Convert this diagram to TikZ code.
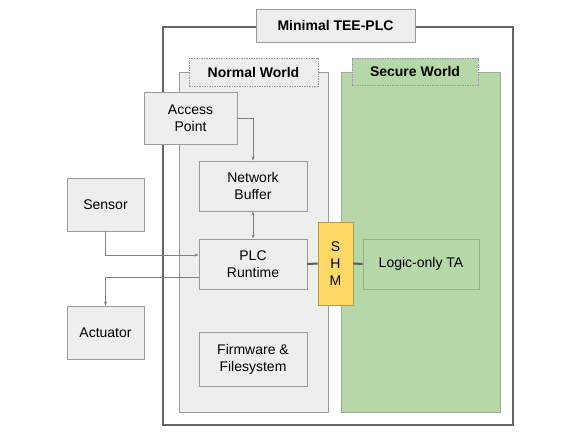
\documentclass[tikz,border=0pt]{standalone}
\usepackage{fontspec}
\setmainfont{Liberation Sans}
\usetikzlibrary{arrows.meta}
\definecolor{boxfill}{HTML}{EEEEEE}
\definecolor{boxline}{HTML}{9A9A9A}
\definecolor{greenfill}{HTML}{B6D7A8}
\definecolor{greenline}{HTML}{9AAF91}
\definecolor{shmfill}{HTML}{FFD966}
\definecolor{shmline}{HTML}{B59A4A}
\definecolor{outerline}{HTML}{666666}
\definecolor{wireline}{HTML}{808080}
\definecolor{thickline}{HTML}{5A5A5A}
\tikzset{
  comp/.style={draw=boxline, fill=boxfill, line width=0.9pt, align=center,
    font=\fontsize{14}{17}\selectfont, inner sep=0pt},
  greencomp/.style={comp, fill=greenfill, draw=greenline},
  shmbox/.style={comp, fill=shmfill, draw=shmline},
  titlebox/.style={comp, font=\bfseries\fontsize{14}{17}\selectfont},
  worldlabel/.style={comp, dashed, dash pattern=on 1.5pt off 1pt, line width=0.7pt,
    font=\bfseries\fontsize{14}{17}\selectfont},
  wire/.style={draw=wireline, line width=0.8pt, -{Stealth[length=4pt,width=3pt]}},
  dwire/.style={draw=wireline, line width=0.8pt, {Stealth[length=4pt,width=3pt]}-{Stealth[length=4pt,width=3pt]}},
  thick wire/.style={draw=thickline, line width=2pt},
}
\begin{document}
\begin{tikzpicture}[x=1pt,y=-1pt]
\useasboundingbox (0,0) rectangle (581,436);
\fill[white] (0,0) rectangle (581,436);
% outer box
\draw[outerline, line width=2pt] (163,27) rectangle (513,425);
\node[titlebox, minimum width=159pt, minimum height=33pt] (title) at (335.5,25.5) {Minimal TEE-PLC};
% worlds
\draw[boxline, fill=boxfill, line width=0.9pt] (179,72) rectangle (328,412);
\draw[greenline, fill=greenfill, line width=0.9pt] (341,72) rectangle (500,412);
\node[worldlabel, minimum width=129pt, minimum height=28pt] (nwl) at (253.5,72) {Normal World};
\node[worldlabel, fill=greenfill, minimum width=126pt, minimum height=27pt] (swl) at (415,71.5) {Secure World};
% components
\node[comp, minimum width=93pt, minimum height=52pt] (ap) at (190.5,118) {Access\\Point};
\node[comp, minimum width=108pt, minimum height=50pt] (nb) at (253,186) {Network\\Buffer};
\node[comp, minimum width=77pt, minimum height=53pt] (sensor) at (105.5,204.5) {Sensor};
\node[comp, minimum width=108pt, minimum height=50pt] (plc) at (253,264) {PLC\\Runtime};
\node[comp, minimum width=77pt, minimum height=53pt] (act) at (105.5,332.5) {Actuator};
\node[comp, minimum width=108pt, minimum height=54pt] (fw) at (253,359) {Firmware \&\\Filesystem};
\node[shmbox, minimum width=35pt, minimum height=83pt] (shm) at (335.5,263.5) {S\\H\\M};
\node[greencomp, minimum width=116pt, minimum height=50pt] (ta) at (421,264) {Logic-only TA};
% connectors
\draw[wire] (ap.east) -| (nb.north);
\draw[dwire] (nb.south) -- (plc.north);
\draw[wire] (sensor.south) |- ([yshift=9pt]plc.west);
\draw[wire] ([yshift=-13pt]plc.west) -| (act.north);
\draw[thick wire] (plc.east) -- (shm.west);
\draw[thick wire] (shm.east) -- (ta.west);
\end{tikzpicture}
\end{document}
